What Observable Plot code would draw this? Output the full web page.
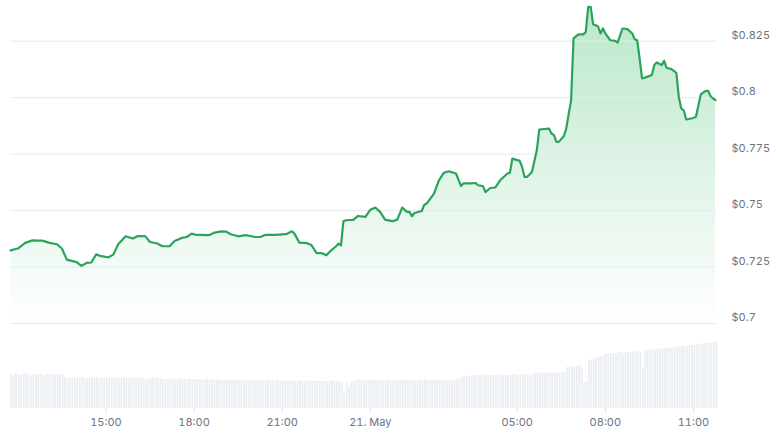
<!DOCTYPE html>
<html><head><meta charset="utf-8">
<script src="https://cdn.jsdelivr.net/npm/d3@7"></script>
<script src="https://cdn.jsdelivr.net/npm/@observablehq/plot@0.6"></script>
<style>
html,body{margin:0;padding:0;background:#fff;}
#chart{width:777px;height:437px;overflow:hidden;}
#chart svg{display:block;}
</style></head><body><div id="chart"></div>
<script>
const priceTimes = [
"05-20 11:45","05-20 12:00","05-20 12:15","05-20 12:30","05-20 12:40","05-20 12:50","05-20 13:05","05-20 13:20","05-20 13:30","05-20 13:40",
"05-20 13:50","05-20 14:00","05-20 14:10","05-20 14:20","05-20 14:30","05-20 14:40","05-20 14:50","05-20 15:05","05-20 15:15","05-20 15:25",
"05-20 15:40","05-20 15:55","05-20 16:05","05-20 16:20","05-20 16:30","05-20 16:45","05-20 16:55","05-20 17:10","05-20 17:20","05-20 17:35",
"05-20 17:45","05-20 17:55","05-20 18:05","05-20 18:30","05-20 18:40","05-20 18:55","05-20 19:05","05-20 19:15","05-20 19:30","05-20 19:45",
"05-20 20:05","05-20 20:15","05-20 20:25","05-20 20:45","05-20 21:00","05-20 21:10","05-20 21:20","05-20 21:25","05-20 21:35","05-20 21:50",
"05-20 22:00","05-20 22:10","05-20 22:20","05-20 22:30","05-20 22:40","05-20 22:50","05-20 22:55","05-20 23:00","05-20 23:05","05-20 23:10",
"05-20 23:25","05-20 23:35","05-20 23:50","05-21 00:00","05-21 00:10","05-21 00:20","05-21 00:30","05-21 00:45","05-21 00:55","05-21 01:05",
"05-21 01:15","05-21 01:20","05-21 01:25","05-21 01:30","05-21 01:45","05-21 01:50","05-21 01:55","05-21 02:10","05-21 02:20","05-21 02:30",
"05-21 02:40","05-21 02:55","05-21 03:00","05-21 03:05","05-21 03:10","05-21 03:25","05-21 03:35","05-21 03:40","05-21 03:50","05-21 03:55",
"05-21 04:05","05-21 04:15","05-21 04:25","05-21 04:40","05-21 04:45","05-21 04:50","05-21 05:05","05-21 05:10","05-21 05:15","05-21 05:20",
"05-21 05:30","05-21 05:40","05-21 05:45","05-21 06:05","05-21 06:10","05-21 06:15","05-21 06:20","05-21 06:25","05-21 06:35","05-21 06:40",
"05-21 06:50","05-21 06:55","05-21 07:05","05-21 07:15","05-21 07:20","05-21 07:25","05-21 07:30","05-21 07:35","05-21 07:45","05-21 07:50",
"05-21 07:55","05-21 08:00","05-21 08:10","05-21 08:20","05-21 08:25","05-21 08:35","05-21 08:45","05-21 08:55","05-21 09:00","05-21 09:05",
"05-21 09:10","05-21 09:15","05-21 09:25","05-21 09:35","05-21 09:40","05-21 09:45","05-21 09:55","05-21 10:00","05-21 10:05","05-21 10:15",
"05-21 10:25","05-21 10:30","05-21 10:35","05-21 10:40","05-21 10:45","05-21 11:00","05-21 11:05","05-21 11:15","05-21 11:25","05-21 11:30",
"05-21 11:35","05-21 11:40","05-21 11:45"
];
const prices = [
0.7324,0.7332,0.7357,0.7368,0.7367,0.7367,0.7357,0.7351,0.7332,0.7283,
0.7277,0.7272,0.7255,0.7268,0.7270,0.7306,0.7298,0.7293,0.7305,0.7351,
0.7386,0.7376,0.7387,0.7387,0.7361,0.7354,0.7342,0.7342,0.7365,0.7379,
0.7383,0.7398,0.7392,0.7391,0.7401,0.7408,0.7407,0.7395,0.7386,0.7391,
0.7383,0.7383,0.7392,0.7392,0.7395,0.7397,0.7408,0.7398,0.7358,0.7356,
0.7346,0.7312,0.7312,0.7302,0.7324,0.7342,0.7354,0.7346,0.7453,0.7457,
0.7459,0.7476,0.7472,0.7504,0.7513,0.7494,0.7460,0.7453,0.7460,0.7513,
0.7494,0.7494,0.7475,0.7489,0.7498,0.7525,0.7531,0.7575,0.7634,0.7667,
0.7674,0.7664,0.7637,0.7609,0.7620,0.7620,0.7622,0.7612,0.7608,0.7582,
0.7600,0.7602,0.7634,0.7664,0.7667,0.7730,0.7720,0.7693,0.7649,0.7649,
0.7671,0.7767,0.7859,0.7863,0.7841,0.7834,0.7804,0.7804,0.7829,0.7863,
0.7989,0.8262,0.8280,0.8280,0.8291,0.8402,0.8402,0.8325,0.8316,0.8284,
0.8306,0.8284,0.8254,0.8251,0.8244,0.8306,0.8303,0.8284,0.8258,0.8254,
0.8173,0.8085,0.8092,0.8100,0.8144,0.8156,0.8144,0.8163,0.8132,0.8126,
0.8110,0.8003,0.7952,0.7944,0.7903,0.7910,0.7915,0.8015,0.8030,0.8030,
0.8006,0.7996,0.7989
];
// 5-minute volume bars starting at volumeStart (relative units)
const volumeStart = "05-20 11:45";
const volumes = [
34,33,35,34,33,34,35,34,33,34,34,33,
34,33,34,35,33,34,33,34,33,34,31,30,
31,30,30,31,30,31,30,30,31,30,30,31,
30,31,30,30,31,30,30,31,30,30,31,30,
30,30,31,30,30,31,30,29,30,30,31,30,
30,30,29,29,29,30,29,29,29,29,30,29,
29,29,28,29,29,29,28,29,29,28,29,29,
28,29,28,28,29,28,28,28,29,28,28,28,
28,28,28,27,28,28,28,27,28,28,27,28,
27,28,27,27,28,27,27,28,27,27,28,27,
27,27,28,27,27,27,28,27,27,27,27,28,
27,27,27,26,15,25,22,26,27,28,28,28,
28,28,28,29,28,28,28,28,28,28,29,28,
28,28,28,28,28,29,28,28,28,28,28,28,
28,29,28,28,28,28,29,28,28,28,28,29,
28,28,29,29,31,32,32,33,32,33,33,33,
33,33,34,33,33,33,33,34,33,33,33,33,
33,34,34,33,34,34,33,34,33,34,35,35,
35,36,35,35,36,35,36,35,36,35,36,41,
41,42,41,42,43,41,26,27,48,49,50,51,
51,52,53,54,54,55,55,55,56,56,55,56,
56,56,57,56,57,56,40,58,58,59,58,59,
59,59,60,60,60,61,60,61,61,62,62,62,
62,63,63,63,64,64,64,65,65,65,66,66,66
];
const xTickTimes = ["05-20 15:00","05-20 18:00","05-20 21:00","05-21 00:00","05-21 05:00","05-21 08:00","05-21 11:00"];
const xTickLabels = ["15:00","18:00","21:00","21. May","05:00","08:00","11:00"];
const yTicks = [0.7,0.725,0.75,0.775,0.8,0.825];
const yTickLabels = ["$0.7","$0.725","$0.75","$0.775","$0.8","$0.825"];

const parse = s => new Date(`2024-${s.replace(" ","T")}:00Z`);
const priceData = priceTimes.map((t,i)=>({t: parse(t), p: prices[i]}));
const v0 = parse(volumeStart);
const volData = volumes.map((v,i)=>({t1: new Date(+v0 + i*300000), t2: new Date(+v0 + (i+1)*300000), v}));
const xDomain = [parse("05-20 11:45"), parse("05-21 11:47")];
const xTickDates = xTickTimes.map(parse);

const baseStyle = {background:"transparent", fontFamily:"Inter, 'Noto Sans', sans-serif", fontSize:"11px", color:"#6b7385", overflow:"visible"};

const pricePlot = Plot.plot({
  width:777, height:323, marginLeft:10, marginRight:61, marginTop:0, marginBottom:0,
  x:{type:"utc", domain:xDomain, axis:null},
  y:{domain:[0.7,0.843], axis:null},
  style: baseStyle,
  marks:[
    Plot.areaY(priceData, {x:"t", y1:0.7, y2:"p", fill:"url(#priceGrad)"}),
    Plot.gridY(yTicks, {stroke:"#e8eaee", strokeOpacity:1}),
    Plot.lineY(priceData, {x:"t", y:"p", stroke:"#2ba35b", strokeWidth:2.2, strokeLinejoin:"round"}),
    Plot.axisY(yTicks, {anchor:"right", label:null, tickSize:0, tickPadding:15, dy:-6, fill:"#6b7385", tickFormat: d => yTickLabels[yTicks.indexOf(d)]})
  ]
});
{
  const ns = "http://www.w3.org/2000/svg";
  const defs = document.createElementNS(ns, "defs");
  const g = document.createElementNS(ns, "linearGradient");
  g.setAttribute("id","priceGrad"); g.setAttribute("x1","0"); g.setAttribute("y1","0"); g.setAttribute("x2","0"); g.setAttribute("y2","1");
  [[0,0.27],[1,0]].forEach(([o,op])=>{
    const s = document.createElementNS(ns,"stop");
    s.setAttribute("offset",o); s.setAttribute("stop-color","#00a83e"); s.setAttribute("stop-opacity",op);
    g.appendChild(s);
  });
  defs.appendChild(g);
  pricePlot.insertBefore(defs, pricePlot.firstChild);
}

const volPlot = Plot.plot({
  width:777, height:114, marginLeft:10, marginRight:61, marginTop:15, marginBottom:29,
  x:{type:"utc", domain:xDomain, axis:null},
  y:{domain:[0,70], axis:null},
  style: baseStyle,
  marks:[
    Plot.rectY(volData, {x1:"t1", x2:"t2", y:"v", fill:"#eaedf2", insetLeft:0.35, insetRight:0.35}),
    Plot.axisX(xTickDates, {anchor:"bottom", label:null, tickSize:5, tickPadding:5, stroke:"#dde1e7", fill:"#6b7385",
      tickFormat: d => xTickLabels[xTickDates.findIndex(x => +x === +d)]})
  ]
});

const root = document.getElementById("chart");
root.appendChild(pricePlot);
root.appendChild(volPlot);
</script></body></html>
